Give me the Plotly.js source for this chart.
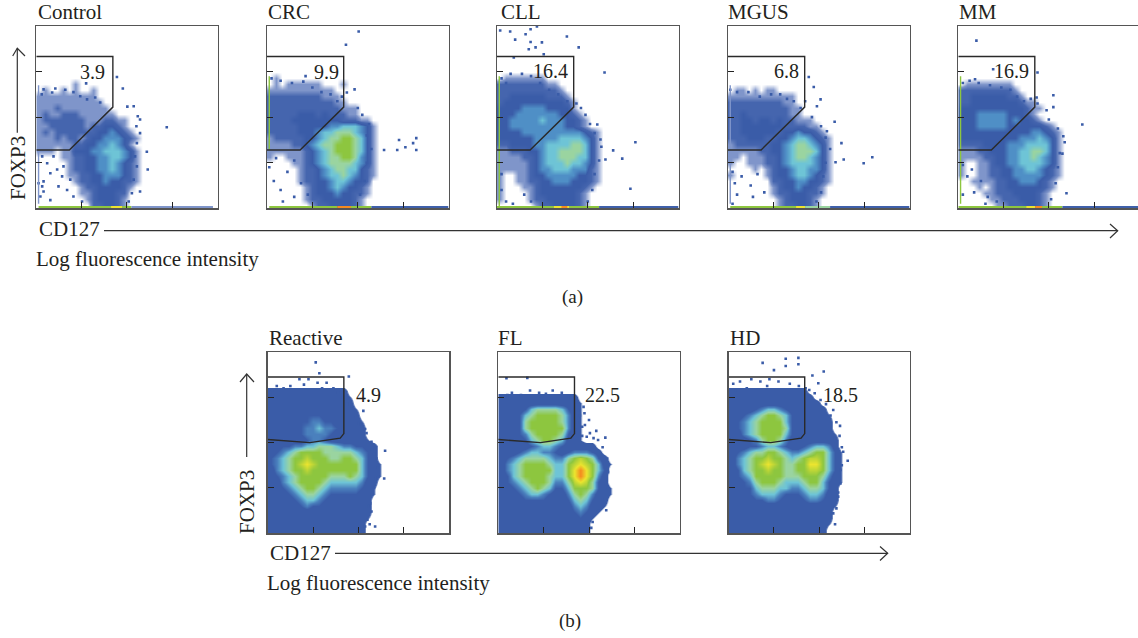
<!DOCTYPE html>
<html><head><meta charset="utf-8">
<script src="https://cdn.plot.ly/plotly-3.0.1.min.js"></script>
<style>html,body{margin:0;padding:0;background:#fff}#c{width:1138px;height:638px}</style>
</head><body><div id="c"></div>
<script>
// Density levels: each string is a row (top to bottom), each character a 0.133-decade bin. "a" is level 7.5.
const control=["","","","","","","","","","000000100","0100101001","1111111111","11111111111","1112111111110","12112221111110","122222221112211","1122222212233210","12122222223343210","11121221233444321","11111122334454310","11101133344555431","00001122334455431","00000122334454321","00000122334454321","00000112233444321","00000012233433221","00000001223333210","0000000112333220","0000000012333210","0000000002233210"];
const crc=["","","","","","","","","0100000000","0101111110001","11111111111","2222222221110","22222222222110","222222222222111","2222233323222110","22223333333322211","222223333344555431","222223334556665431","122222334566776531","111122345667776531","111111234567776531","100111234566776431","000011234566665431","000001223456655321","000001223455654321","000001223345543320","000000123345433210","000000123334332210","000000122333332100","000000012233332100"];
const cll=["","","","","","","","","0111111100","2222222211","22222222221","223333332221","2333333333321","3333444433331","33344444443321","334444454443321","3344444444433210","33334444444444321","33333344445555431","22333344555566531","11222334556666531","11112234556665531","11111234555655431","11111234455544421","10011233444443321","10011223344433321","10001123333333210","10000123333332100","10000122333332100","00000012233332100"];
const mgus=["","","","","","","","","","","0110101100","11111111111","22222222211","222222222211","2232222222110","22332332322111","223333333222211","2233333323343321","22233322334554321","12222223345665431","11111223345666531","11011122345665431","10011122345555431","00001012334554431","10000012334554321","00000002233443321","00000001233433210","00000001223332210","00000000123332100","00000000122332100"];
const mm=["","","","","","","","","","0111111110","2222222221","22333333221","2233333333211","33333333333211","33344444333210","333444443433210","3334444433333321","33333333333344321","33333333334445431","22223333444555531","11122333445566531","11112233445565431","10011233445555431","10011223344554321","10011223344444321","00111122334443210","00010122333333210","00001122233332100","00000112223332100","00000011222332100"];
const reactive=["","","","","","","2222222222222","22222222222221","22222222222222","222222222222221","222222333222222","2222233443322221","2222234454432222","2222234444322222","22222234432222221","223344556665443322","234567777666665432","345677a77766776532","34567a8a77777775321","245677a777777775321","2345677777666765321","224567777655555422","223456776544444321","222345665433333221","22223455432222222","22222343322222222","22222222222222222","22222222222222221","2222222222222222","2222222222222222"];
const fl=["","","","","","","","2222222222222","22222222222221","22223566665321","22235677776421","22236777776421","22236777777421","22234677776321","22223567765221","2222234554322222","22234554432344432","234566665446 7a7632","24567777655 7a8a7521","245677777557898753","235677776557898742","2345677764 46a8a632","2234567653357776321","2223455432246764221","222233332223565322","222222222222454221","22222222222234321","2222222222222321","222222222222222","222222222222222"].map(r=>r.replace(/ /g,""));
const hd=["","","","","","","2222222222222","22222222222222","222222222222222","2222345543222222","22345677653222221","23456777753222222","23456777763222222","224567777532222221","222346776422222222","222334554322345542","2345667765445677531","245677a776567aa7531","24567a8a76677887531","235677a776677aa7531","2345777776667776421","2234677765556775321","223356665544566532","222345554333455422","222233443222344322","222222222222222221","22222222222222222","22222222222222222","22222222222222221","2222222222222222"];

// Events outside the main populations, in decades [x,y]
const strayControl=[[2.88,1.78],[1.78,2.88],[1.91,2.63],[1.10,2.74],[2.44,1.24],[2.46,.85],[2.29,.37],[2.24,2.02],[2.21,1.80],[2.29,1.65],[2.15,2.24],[2.01,2.23],[.16,.59],[.13,.48],[.09,.26],[.16,2.61],[.42,2.63],[.64,2.6],[.82,2.55],[.97,2.46],[.12,2.5],[1.12,2.39],[1.3,2.43],[1.41,2.32],[.35,2.54],[.05,.55],[.16,.37],[.31,.77],[.46,.85],[.13,1.14],[.38,1.14],[.6,.92],[.49,.48],[.31,.18],[.68,.4],[.82,.26],[1.01,.15],[.24,.99],[.57,.7],[.75,.63],[2.18,1.14],[2.22,.92],[2.15,.63],[2.11,.33],[2.22,1.43],[2.29,1.95],[2.04,.15]];
const strayCrc=[[2.02,3.88],[1.74,3.59],[.85,2.90],[1.93,2.61],[1.76,2.54],[2.91,1.50],[3.05,1.34],[3.22,1.43],[3.29,1.28],[3.29,1.54],[2.87,1.28],[2.58,1.28],[.1,2.85],[.3,2.8],[.55,2.75],[.8,2.78],[1.0,2.65],[1.2,2.55],[1.4,2.5],[1.55,2.35],[1.65,2.45],[.05,.9],[.15,.6],[.3,.4],[.45,.8],[.6,1.05],[.75,.55],[.9,.3],[.2,1.1],[.35,.15],[.6,.25],[2.2,1.6],[2.3,1.3],[2.2,1.0],[2.15,.6],[2.05,.3],[2.25,1.85],[2.1,2.05],[2.0,2.2]];
const strayCll=[[.07,3.90],[.29,3.88],[.63,3.82],[.74,3.93],[.88,3.99],[.40,3.70],[.74,3.65],[.99,3.64],[1.54,3.77],[.70,3.49],[.85,3.53],[1.03,3.38],[1.80,3.53],[.37,3.31],[2.37,2.98],[3.05,1.45],[2.56,1.27],[2.76,1.09],[2.94,.43],[2.39,1.07],[2.28,1.51],[2.21,1.84],[.1,2.85],[.3,2.95],[.55,2.95],[.75,2.9],[.95,2.75],[1.15,2.6],[1.35,2.5],[1.55,2.35],[.2,2.75],[.1,.4],[.2,.15],[.35,.1],[.6,.3],[.75,.15],[.1,.75],[2.15,1.65],[2.3,1.35],[2.25,1.05],[2.15,.75],[2.1,.4],[2.0,.15],[1.95,2.05],[2.05,1.85],[1.85,2.2],[1.75,2.3]];
const strayMgus=[[1.78,2.88],[1.89,2.66],[2.35,1.90],[2.5,1.43],[3.18,1.12],[2.99,.99],[2.55,1.07],[2.37,1.01],[2.04,2.39],[1.96,2.24],[2.18,1.69],[.05,2.6],[.2,2.55],[.45,2.55],[.7,2.45],[.95,2.5],[1.15,2.5],[1.3,2.4],[1.45,2.35],[1.6,2.2],[1.7,2.35],[.1,.8],[.15,.55],[.3,.7],[.5,.5],[.55,.25],[.2,.3],[.1,.1],[.8,.35],[.65,.75],[2.15,1.55],[2.25,1.3],[2.15,1.0],[2.1,.7],[2.05,.35],[1.95,.15],[2.05,1.8],[1.85,2.0]];
const strayMm=[[.40,3.68],[1.75,2.98],[2.10,2.48],[2.10,2.22],[2.74,1.84],[2.39,.33],[2.32,1.58],[2.24,1.21],[.77,3.05],[.37,2.83],[1.73,2.43],[.1,2.75],[.25,2.8],[.45,2.75],[.7,2.7],[.95,2.65],[1.15,2.6],[1.3,2.45],[1.45,2.35],[1.6,2.4],[.1,.95],[.2,.7],[.35,.35],[.5,.6],[.65,.25],[.85,.15],[.3,.85],[.1,.3],[.6,.1],[2.2,1.75],[2.35,1.45],[2.3,1.2],[2.2,.9],[2.15,.55],[2.05,.2],[2.0,1.95],[1.95,2.15],[1.75,2.3]];
const strayReactive=[[1.06,3.77],[1.14,3.53],[1.79,3.46],[2.11,2.70],[2.0,2.43],[2.59,1.82],[2.57,1.21],[2.29,.48],[2.37,.15],[2.18,2.21],[2.29,2.02],[2.40,1.65],[2.44,1.25],[2.26,.66],[.1,3.15],[.2,3.25],[.35,3.2],[.5,3.25],[.7,3.4],[.9,3.4],[1.1,3.32],[1.3,3.32],[1.45,3.2],[.05,3.05],[.8,3.28],[1.2,3.2],[1.55,3.1],[1.65,3.0],[1.75,2.85],[1.85,2.75],[1.95,2.55],[2.05,2.4],[2.15,2.3],[2.25,2.0],[2.3,1.85],[2.35,1.75],[2.42,1.45],[2.38,1.2],[2.35,1.0],[2.3,.85],[2.22,.6],[2.2,.3],[2.15,.15],[2.25,.2]];
const strayFl=[[.18,3.42],[.64,3.43],[2.16,2.26],[2.36,2.11],[2.38,.51],[1.88,2.79],[1.77,2.54],[1.91,2.39],[2.02,2.21],[1.69,2.28],[1.77,2.72],[1.95,2.13],[2.2,2.06],[.1,3.0],[.3,3.1],[.5,3.05],[.7,3.15],[.9,3.1],[1.2,3.15],[1.4,3.1],[1.55,3.0],[1.05,3.08],[.2,3.05],[1.72,2.9],[1.8,2.6],[1.85,2.35],[1.9,2.65],[1.75,2.45],[2.0,2.5],[1.85,2.15],[2.1,2.1],[2.3,1.9],[2.4,1.65],[2.42,1.35],[2.42,1.0],[2.3,.75],[2.2,.5],[2.08,.25],[2.05,.12]];
const strayHd=[[.75,3.76],[1.26,3.85],[1.26,3.69],[1.54,3.87],[1.54,3.73],[1.0,3.6],[2.1,3.57],[1.85,3.48],[1.98,3.31],[1.78,3.16],[1.90,3.09],[2.03,2.94],[2.31,2.72],[2.46,2.37],[2.53,1.80],[2.63,1.60],[2.47,1.40],[2.42,.81],[2.31,.44],[.1,3.3],[.25,3.35],[.5,3.4],[.7,3.35],[.9,3.4],[1.1,3.35],[1.35,3.3],[1.55,3.25],[1.7,3.2],[.15,3.15],[.4,3.2],[.85,3.25],[2.15,2.85],[2.25,2.6],[2.38,2.45],[2.45,2.15],[2.5,1.9],[2.5,1.5],[2.47,1.1],[2.42,.9],[2.38,.55],[2.35,.2]];

// Events piled on the axes: [from, to, level]
const pileControl={b:[[.05,1.65,7],[1.65,1.9,8],[1.9,2.1,7],[2.1,3.9,1]],l:[[.1,2.7,1]]};
const pileCrc={b:[[.05,1.55,7],[1.55,1.85,9],[1.85,2.3,7],[2.3,4,2]],l:[[1.3,2.9,7]]};
const pileCll={b:[[0,1.25,7],[1.25,1.6,8],[1.42,1.55,9],[1.6,2.25,7],[2.25,4,2]],l:[[0,2.9,7]]};
const pileMgus={b:[[.05,1.5,7],[1.5,1.7,8],[1.7,2.25,6],[2.25,4,2]],l:[[.1,2.7,1]]};
const pileMm={b:[[0,1.5,7],[1.5,1.7,8],[1.7,1.85,9],[1.85,2.3,7],[2.3,3.97,2]],l:[[.1,2.9,7]]};

const gateAx=[0,1.69,1.69,.73,0], gateAy=[3.33,3.33,2.22,1.28,1.28];
const gateBx=[0,1.68,1.68,1.6,.93,0], gateBy=[3.45,3.45,2.2,2.1,2.0,2.07];

const names=["Control","CRC","CLL","MGUS","MM","Reactive","FL","HD"];
const gateValues=["3.9","9.9","16.4","6.8","16.9","4.9","22.5","18.5"];
const grids=[control,crc,cll,mgus,mm,reactive,fl,hd];
const strays=[strayControl,strayCrc,strayCll,strayMgus,strayMm,strayReactive,strayFl,strayHd];
const piles=[pileControl,pileCrc,pileCll,pileMgus,pileMm,null,null,null];
const tickDecades=[1,2,3];

// ---- layout -----
const W=1138,H=638;
const fx=x=>x/W, fy=y=>1-y/H;
const frames=[[36.3,26,217.5,208.3],[267,26,448.5,208.3],[497,26,678.5,208.3],[728,26,909.5,208.3],[958.3,26,1138,208.3],
 [267.7,352,449,533.3],[498.3,352,679.7,533.3],[728.7,352,909.7,533.3]];
const nameAt=[[36,12],[266,12],[499,12],[726,12],[957,12],[267,338],[496,338],[728,338]];
const valueAt=[[92,72],[326,72],[550,71],[787,71],[1011,71],[368.5,395],[602.5,395],[840.5,395]];
const levelColor=["#ffffff","#7f95ca","#3f60aa","#3a5ca8","#4f8fc6","#6ec4d6","#9ad4a0","#8dc63f","#ece52f","#f58a1f"];
const SCALE_A=[[0,"#ffffff"],[1/9,"#7f95ca"],[2/9,"#4565ae"],[3/9,"#3a5ca8"],[4/9,"#4f8fc6"],[5/9,"#6ec4d6"],[6/9,"#9ad4a0"],[7/9,"#8dc63f"],[8/9,"#ece52f"],[1,"#f58a1f"]];
const SCALE_B=[[0,"#ffffff"],[.7/9,"#ffffff"],[1/9,"#3a5ca8"],[3/9,"#3a5ca8"],[4/9,"#4a80bd"],[5/9,"#6ec4d6"],[6/9,"#9ad4a0"],[7/9,"#8dc63f"],[8/9,"#ece52f"],[1,"#f58a1f"]];

const traces=[],layout={width:W,height:H,margin:{l:0,r:0,t:0,b:0},paper_bgcolor:"#fff",plot_bgcolor:"#fff",showlegend:false,annotations:[],shapes:[]};
const FONT="Liberation Serif";
const label=(t,x,y,o={})=>{const size=o.size||21;delete o.size;layout.annotations.push(Object.assign({text:t,xref:"paper",yref:"paper",x:fx(x),y:fy(y),showarrow:false,xanchor:"left",yanchor:"middle",font:{family:FONT,size,color:"#231f20"}},o));};
const N=30;
const level=c=>c==="a"?7.5:Number(c);
grids.forEach((g,i)=>{
  const s=i?String(i+1):"", f=frames[i], xa="x"+s, ya="y"+s;
  const cell=4/N, right=i==4?3.97:4;
  layout["xaxis"+s]={domain:[fx(f[0]),Math.min(1,fx(f[2]))],range:[0,right],anchor:ya,mirror:true,showline:true,linecolor:"#555",linewidth:1.5,showgrid:false,zeroline:false,ticks:"inside",ticklen:6,tickwidth:1,tickcolor:"#222",tickvals:tickDecades,showticklabels:false,fixedrange:true};
  layout["yaxis"+s]={domain:[fy(f[3]),fy(f[1])],range:[0,4],anchor:xa,mirror:i!=4,showline:true,linecolor:"#555",linewidth:1.5,showgrid:false,zeroline:false,ticks:"inside",ticklen:6,tickwidth:1,tickcolor:"#222",tickvals:tickDecades,showticklabels:false,fixedrange:true};
  const z=g.slice().reverse().map(r=>Array.from(r.padEnd(N,"0"),level));
  traces.push({type:"heatmap",z,x0:cell/2,dx:cell,y0:cell/2,dy:cell,xaxis:xa,yaxis:ya,zmin:0,zmax:9,zsmooth:"best",colorscale:i<5?SCALE_A:SCALE_B,showscale:false,hoverinfo:"skip"});
  traces.push({type:"scatter",mode:"markers",x:strays[i].map(p=>p[0]),y:strays[i].map(p=>p[1]),xaxis:xa,yaxis:ya,marker:{symbol:"square",size:2.6,color:"#3a5ca8"},hoverinfo:"skip"});
  const p=piles[i];
  if(p){
    p.b.forEach(b=>traces.push({type:"scatter",mode:"lines",x:[b[0],b[1]],y:[.03,.03],xaxis:xa,yaxis:ya,line:{color:levelColor[b[2]],width:2},hoverinfo:"skip"}));
    p.l.forEach(b=>traces.push({type:"scatter",mode:"lines",x:[.05,.05],y:[b[0],b[1]],xaxis:xa,yaxis:ya,line:{color:levelColor[b[2]],width:1.4},hoverinfo:"skip"}));
  }
  traces.push({type:"scatter",mode:"lines",x:i<5?gateAx:gateBx,y:i<5?gateAy:gateBy,xaxis:xa,yaxis:ya,line:{color:"#2a2a2a",width:1.4},hoverinfo:"skip"});
  label(names[i],nameAt[i][0],nameAt[i][1]);
  label(gateValues[i],valueAt[i][0],valueAt[i][1],{xanchor:"center",size:20});
});
label("FOXP3",18,168,{textangle:-90,xanchor:"center"});
label("FOXP3",247,502,{textangle:-90,xanchor:"center"});
label("CD127",37,229);
label("CD127",268,553);
label("Log fluorescence intensity",34,259);
label("Log fluorescence intensity",265,583);
label("(a)",572,297,{xanchor:"center",size:19});
label("(b)",570,621,{xanchor:"center",size:19});
const path=(pts)=>"M"+pts.map(p=>fx(p[0])+" "+fy(p[1])).join(" L");
const arrow=pts=>layout.shapes.push({type:"path",xref:"paper",yref:"paper",path:path(pts),line:{color:"#333",width:1.2},fillcolor:"rgba(0,0,0,0)"});
arrow([[104,230.7],[1117.7,230.7]]);arrow([[1110,224],[1117.7,230.7],[1110,238]]);
arrow([[335,553.3],[887.7,553.3]]);arrow([[880,546.5],[887.7,553.3],[880,560.5]]);
arrow([[17.3,132.7],[17.3,48.3]]);arrow([[12.7,56],[17.3,48.3],[25,56]]);
arrow([[246.7,457],[246.7,374]]);arrow([[240,382],[246.7,374],[254,382]]);
Plotly.newPlot("c",traces,layout,{staticPlot:true,displayModeBar:false});
</script></body></html>
